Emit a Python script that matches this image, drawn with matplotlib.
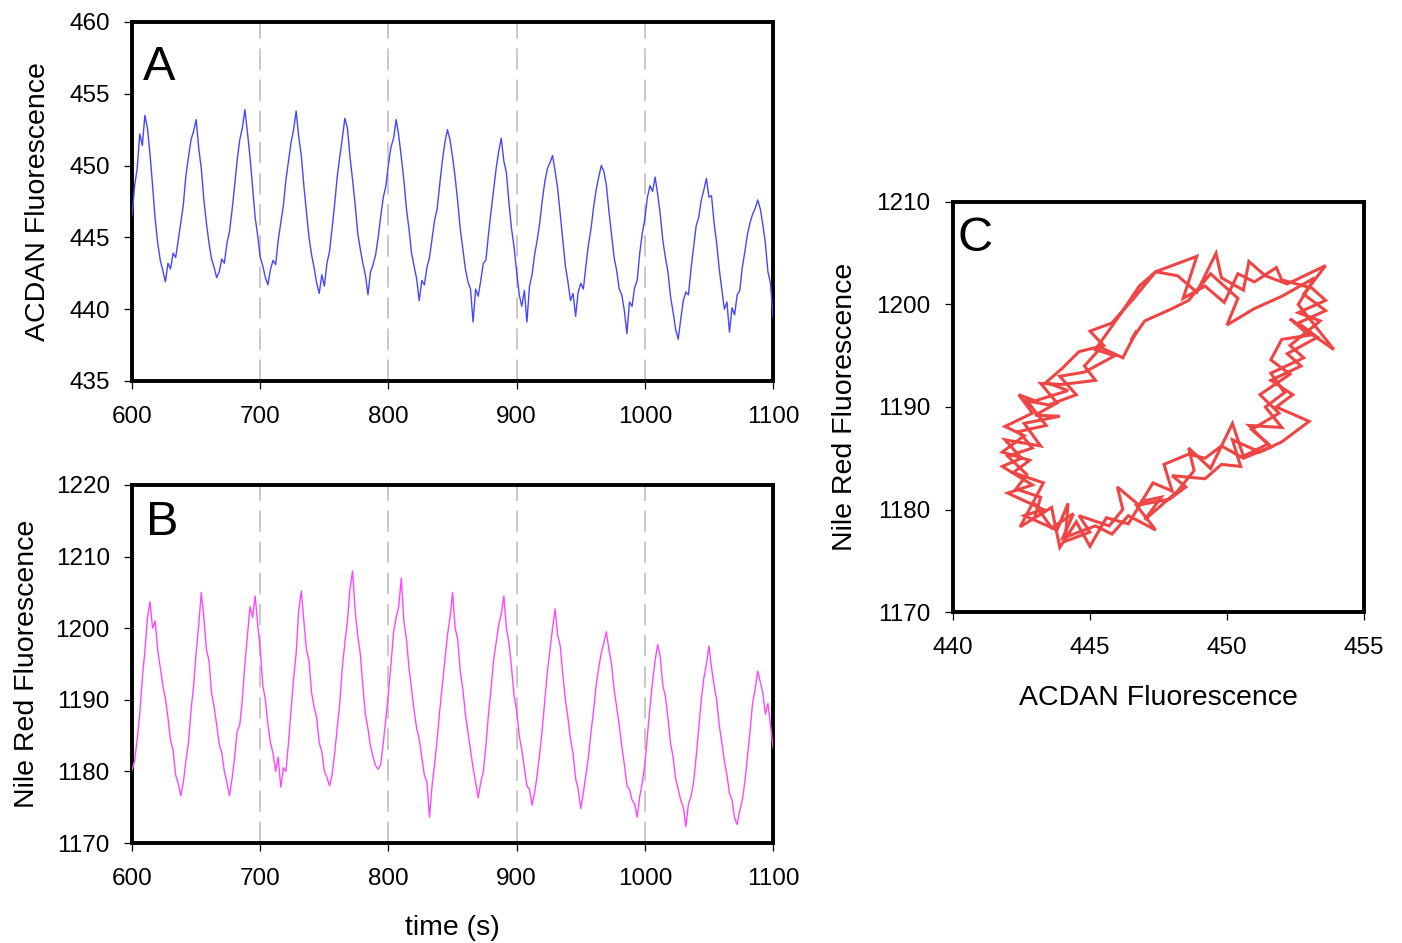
import numpy as np
import matplotlib.pyplot as plt

plt.rcParams['font.family'] = ['Liberation Sans', 'DejaVu Sans']

# sample times (s), one reading every 2 s
time_s = np.arange(600, 1101, 2)

# ACDAN fluorescence
acdan = [
    446.5, 448.6, 449.8, 452.2, 451.4, 453.5, 452.6, 450.8, 448.6, 446.3,
    444.6, 443.4, 442.7, 441.9, 443.2, 442.8, 443.9, 443.6, 444.8, 446.0,
    447.3, 449.3, 450.6, 451.8, 452.4, 453.2, 451.2, 449.8, 447.6, 446.0,
    444.6, 443.5, 442.9, 442.2, 442.6, 443.5, 443.2, 444.6, 445.4, 446.9,
    448.6, 450.4, 451.8, 452.6, 453.9, 452.3, 450.6, 448.5, 446.4, 445.1,
    443.6, 443.0, 442.2, 441.7, 442.8, 443.4, 443.1, 444.8, 446.0, 447.2,
    449.0, 450.3, 451.6, 452.5, 453.8, 452.0, 450.7, 448.6, 446.8, 445.0,
    443.8, 442.9, 441.8, 441.1, 442.4, 441.6, 443.2, 444.0, 445.6, 447.3,
    449.2, 450.6, 451.9, 453.3, 452.6, 450.6, 449.0, 447.3, 445.3, 444.2,
    443.2, 442.4, 441.0, 442.6, 443.1, 443.8, 445.0, 446.5, 447.8, 448.6,
    450.1, 451.3, 451.9, 453.2, 452.1, 450.6, 449.0, 447.0, 445.6, 443.9,
    443.0, 442.1, 440.6, 442.0, 441.7, 442.9, 443.6, 444.9, 446.2, 447.0,
    448.7, 450.3, 451.6, 452.5, 451.8, 450.6, 449.2, 447.5, 445.6, 444.2,
    442.8, 441.9, 441.4, 439.1, 441.4, 440.9, 442.0, 443.2, 443.4, 445.2,
    446.8, 448.3, 449.8, 451.0, 451.9, 450.3, 449.5, 447.4, 445.6, 444.3,
    442.6, 441.0, 440.2, 441.3, 439.1, 441.6, 442.4, 443.8, 444.8, 446.0,
    447.6, 448.9, 449.8, 450.2, 450.7, 449.6, 448.4, 446.6, 444.8, 443.0,
    441.9, 440.6, 441.1, 439.5, 441.2, 441.8, 441.4, 443.0, 444.5, 445.6,
    447.1, 448.3, 449.2, 450.0, 449.6, 448.6, 446.8, 445.2, 443.6, 442.7,
    441.4, 441.0, 439.9, 438.3, 440.5, 440.2, 441.5, 442.0, 443.9, 445.3,
    446.3, 447.8, 448.6, 448.2, 449.2, 448.0, 446.6, 444.8, 443.6, 442.6,
    440.9, 439.8, 438.6, 437.9, 439.3, 440.6, 441.2, 441.0, 442.8, 444.3,
    445.8, 446.4, 447.6, 448.3, 449.1, 447.8, 447.9, 446.0, 444.6, 442.8,
    441.4, 440.0, 440.5, 438.4, 440.1, 439.6, 441.0, 441.3, 442.9, 444.0,
    445.2, 446.0, 446.6, 447.0, 447.6, 447.0, 445.9, 444.6, 442.6, 441.8,
    439.4,
]

# Nile Red fluorescence
nile_red = [
    1180.2, 1181.5, 1184.5, 1188.0, 1193.0, 1196.8, 1201.5, 1203.7, 1200.0, 1201.0,
    1197.0, 1194.5, 1192.0, 1190.2, 1187.5, 1184.3, 1183.0, 1179.5, 1178.3, 1176.6,
    1178.5, 1181.5, 1184.0, 1188.5, 1192.0, 1196.6, 1200.5, 1205.0, 1201.5, 1197.0,
    1195.5, 1191.0, 1189.0, 1186.5, 1183.8, 1182.6, 1180.0, 1178.4, 1176.6, 1179.0,
    1182.0, 1185.6, 1186.5, 1190.0, 1195.0, 1199.0, 1203.0, 1201.5, 1204.5, 1200.5,
    1197.0, 1192.0, 1190.0, 1186.5, 1184.0, 1182.5, 1180.0, 1182.0, 1177.8, 1180.5,
    1180.0, 1184.0, 1188.5, 1193.0, 1196.5, 1202.5, 1205.2, 1201.0, 1197.0, 1195.5,
    1191.0, 1189.0, 1187.5, 1184.0, 1182.8, 1180.0, 1179.2, 1178.0, 1179.5, 1182.5,
    1186.0, 1189.5, 1194.5, 1198.0, 1201.0, 1205.5, 1208.0, 1202.5, 1199.0, 1196.5,
    1192.0, 1188.0, 1186.0, 1183.5, 1182.0, 1180.8, 1180.3, 1181.0, 1184.0, 1187.5,
    1191.0, 1195.0, 1199.5, 1201.5, 1203.0, 1207.0, 1201.0, 1198.5, 1194.5, 1191.5,
    1188.5, 1186.0, 1184.5, 1182.0, 1179.5, 1178.5, 1173.6, 1178.0, 1181.0, 1184.5,
    1188.5, 1192.0, 1195.5, 1199.0, 1201.5, 1205.0, 1200.0, 1198.5, 1194.0, 1191.5,
    1188.0, 1185.5, 1183.0, 1180.5, 1178.5, 1176.3, 1178.5, 1180.0, 1183.5, 1188.0,
    1191.5, 1195.5, 1198.0, 1200.5, 1202.0, 1204.5, 1200.0, 1198.0, 1194.5, 1190.5,
    1188.5, 1185.0, 1183.0, 1180.5, 1178.0, 1177.5, 1175.3, 1177.0, 1179.5, 1182.5,
    1186.0, 1190.0, 1194.0, 1197.0, 1200.0, 1202.7, 1199.0, 1197.5, 1193.5, 1190.0,
    1187.5, 1184.5, 1182.5, 1179.0, 1177.5, 1174.8, 1177.0, 1179.5, 1182.0, 1185.5,
    1188.5, 1192.0, 1194.5, 1196.5, 1198.0, 1199.5, 1197.0, 1195.0, 1191.5, 1189.0,
    1186.5, 1183.5, 1181.0, 1178.0, 1177.5, 1176.0, 1175.5, 1173.6, 1176.5, 1178.5,
    1181.0, 1185.0, 1189.0, 1192.5, 1195.5, 1197.7, 1196.0, 1192.0, 1190.5, 1187.5,
    1184.0, 1182.0, 1179.0, 1177.5, 1176.0, 1175.0, 1172.3, 1175.5, 1176.5, 1178.5,
    1182.0, 1186.0, 1190.0, 1193.0, 1195.0, 1197.5, 1194.5, 1192.0, 1190.0, 1186.5,
    1184.0, 1181.5, 1179.5, 1177.0, 1176.0, 1173.5, 1172.6, 1174.5, 1176.0, 1178.5,
    1182.0, 1185.5, 1189.5, 1191.5, 1194.0, 1192.5, 1191.0, 1188.0, 1189.5, 1186.5,
    1183.3,
]

# panel C: ACDAN vs Nile Red trajectory (traced vertices)
loop_acdan = [
    443.0, 443.6, 444.4, 444.0, 445.2, 445.8, 446.4, 447.4, 446.7, 447.9,
    448.5, 448.0, 449.2, 449.8, 450.5, 450.2, 451.2, 452.0, 453.0, 451.8,
    452.4, 451.6, 452.7, 452.2, 453.3, 452.6, 453.6, 452.8, 453.6, 452.2,
    451.4, 450.8, 450.6, 449.8, 449.6, 448.9, 448.2, 447.4, 446.6, 445.8,
    445.0, 445.5, 444.6, 444.0, 443.4, 444.2, 443.0, 442.4, 442.9, 441.9,
    442.6, 441.8, 442.8, 442.2, 443.3, 442.45, 443.6,
    443.9, 444.5, 445.0, 445.6, 446.4, 446.9, 447.6, 447.0, 448.2, 448.8,
    448.6, 449.4, 450.2, 450.6, 451.5, 450.9, 451.9, 451.2, 452.3, 451.6,
    452.0, 453.0, 452.3, 453.9, 452.6, 453.2, 452.0, 451.0, 450.0, 450.4,
    449.4, 448.6, 448.0, 447.0, 446.5, 446.7, 446.2, 445.4, 444.8, 445.2,
    444.0, 443.2, 443.8, 443.0, 443.9, 442.6, 443.2, 441.9, 442.5, 441.8,
    442.9, 442.0, 443.3, 442.6,
    443.8, 444.2, 444.1, 445.0, 444.6, 445.7, 446.2, 446.0, 446.8, 447.3,
    448.0, 447.7, 448.6, 449.2, 449.8, 450.6, 451.6, 450.8, 452.0, 451.4,
    452.1, 451.6, 452.8, 452.3, 453.4, 452.6, 453.6, 453.1, 452.0, 451.8,
    451.0, 450.4, 449.9, 449.2, 448.4, 448.9, 447.4, 446.8, 446.2, 445.2,
    445.9, 444.8, 443.9, 444.5, 443.5, 442.7, 443.4, 442.4, 442.9, 442.0,
    442.7, 442.3, 443.2, 443.0,
]
loop_nile_red = [
    1180.5, 1178.2, 1179.6, 1177.2, 1178.4, 1177.6, 1179.4, 1178.0, 1180.4, 1181.0,
    1182.2, 1183.3, 1183.0, 1184.4, 1184.2, 1186.8, 1185.6, 1186.6, 1188.6, 1190.0,
    1191.2, 1192.6, 1194.0, 1195.2, 1196.8, 1198.2, 1199.4, 1201.0, 1203.8, 1202.0,
    1202.8, 1204.2, 1201.4, 1202.6, 1205.0, 1201.2, 1202.8, 1203.2, 1200.6, 1198.2,
    1197.4, 1196.0, 1195.4, 1193.8, 1192.4, 1191.6, 1190.6, 1191.2, 1189.4, 1188.1,
    1187.2, 1185.6, 1184.8, 1183.6, 1182.6, 1178.3, 1180.2,
    1176.3, 1178.8, 1176.4, 1179.2, 1178.6, 1180.8, 1181.2, 1179.0, 1181.8, 1183.8,
    1186.0, 1184.0, 1188.4, 1185.2, 1186.4, 1187.8, 1189.4, 1191.2, 1193.2, 1194.6,
    1196.6, 1197.0, 1198.6, 1195.6, 1200.0, 1202.6, 1200.8, 1199.6, 1198.0, 1200.6,
    1203.0, 1200.4, 1199.6, 1198.4, 1196.5, 1197.4, 1194.8, 1195.8, 1194.0, 1192.6,
    1192.2, 1192.3, 1190.4, 1189.2, 1189.1, 1188.4, 1186.2, 1186.8, 1185.0, 1184.2,
    1182.4, 1181.6, 1180.0, 1179.4,
    1178.0, 1180.6, 1176.9, 1177.8, 1179.4, 1178.4, 1180.0, 1182.2, 1180.4, 1182.6,
    1181.8, 1184.4, 1185.4, 1185.0, 1186.2, 1185.0, 1186.1, 1188.2, 1188.0, 1190.0,
    1191.4, 1193.3, 1194.8, 1196.0, 1198.4, 1199.2, 1200.4, 1201.6, 1202.4, 1203.6,
    1202.2, 1203.0, 1200.2, 1201.8, 1200.6, 1204.7, 1203.2, 1201.8, 1199.4, 1195.6,
    1195.0, 1193.4, 1193.0, 1191.2, 1190.2, 1190.6, 1188.2, 1187.6, 1186.0, 1185.2,
    1183.4, 1182.0, 1181.2, 1179.4,
]

grid_times = [700, 800, 900, 1000]

fig = plt.figure(figsize=(14.02, 9.43), dpi=100)
ax_a = fig.add_axes([0.0942, 0.5960, 0.4572, 0.3807])
ax_b = fig.add_axes([0.0942, 0.1060, 0.4572, 0.3797])
ax_c = fig.add_axes([0.6797, 0.3510, 0.2932, 0.4348])


def style_axes(ax):
    for sp in ax.spines.values():
        sp.set_linewidth(2.8)
    ax.tick_params(direction='out', length=6, width=0.9, labelsize=17.5,
                   top=False, right=False)
    ax.tick_params(axis='x', pad=12)
    ax.tick_params(axis='y', pad=10)


for ax in (ax_a, ax_b):
    for t in grid_times:
        ax.axvline(t, color='#c8c8c8', lw=1.4, dashes=(11, 5), zorder=1)

ax_a.plot(time_s, acdan, color='#4646ff', lw=1.0, zorder=3)
ax_a.set_xlim(600, 1100)
ax_a.set_ylim(435, 460)
ax_a.set_xticks(range(600, 1101, 100))
ax_a.set_yticks(range(435, 461, 5))
ax_a.set_ylabel('ACDAN Fluorescence', fontsize=20.5)
ax_a.yaxis.set_label_coords(-0.126, 0.5)
ax_a.text(0.017, 0.838, 'A', transform=ax_a.transAxes, fontsize=35,
          va='baseline', ha='left')
style_axes(ax_a)

ax_b.plot(time_s, nile_red, color='#ff46ff', lw=1.0, zorder=3)
ax_b.set_xlim(600, 1100)
ax_b.set_ylim(1170, 1220)
ax_b.set_xticks(range(600, 1101, 100))
ax_b.set_yticks(range(1170, 1221, 10))
ax_b.set_ylabel('Nile Red Fluorescence', fontsize=20.5)
ax_b.yaxis.set_label_coords(-0.144, 0.5)
ax_b.set_xlabel('time (s)', fontsize=20.5)
ax_b.xaxis.set_label_coords(0.5, -0.2)
ax_b.text(0.022, 0.86, 'B', transform=ax_b.transAxes, fontsize=35,
          va='baseline', ha='left')
style_axes(ax_b)

ax_c.plot(loop_acdan, loop_nile_red, color='#f04545', lw=2.2,
          solid_joinstyle='miter')
ax_c.set_xlim(440, 455)
ax_c.set_ylim(1170, 1210)
ax_c.set_xticks(range(440, 456, 5))
ax_c.set_yticks(range(1170, 1211, 10))
ax_c.set_xlabel('ACDAN Fluorescence', fontsize=20.5)
ax_c.xaxis.set_label_coords(0.5, -0.178)
ax_c.set_ylabel('Nile Red Fluorescence', fontsize=20.5)
ax_c.yaxis.set_label_coords(-0.231, 0.5)
ax_c.text(0.011, 0.88, 'C', transform=ax_c.transAxes, fontsize=35,
          va='baseline', ha='left')
style_axes(ax_c)

fig.savefig('out.png', dpi=100)
